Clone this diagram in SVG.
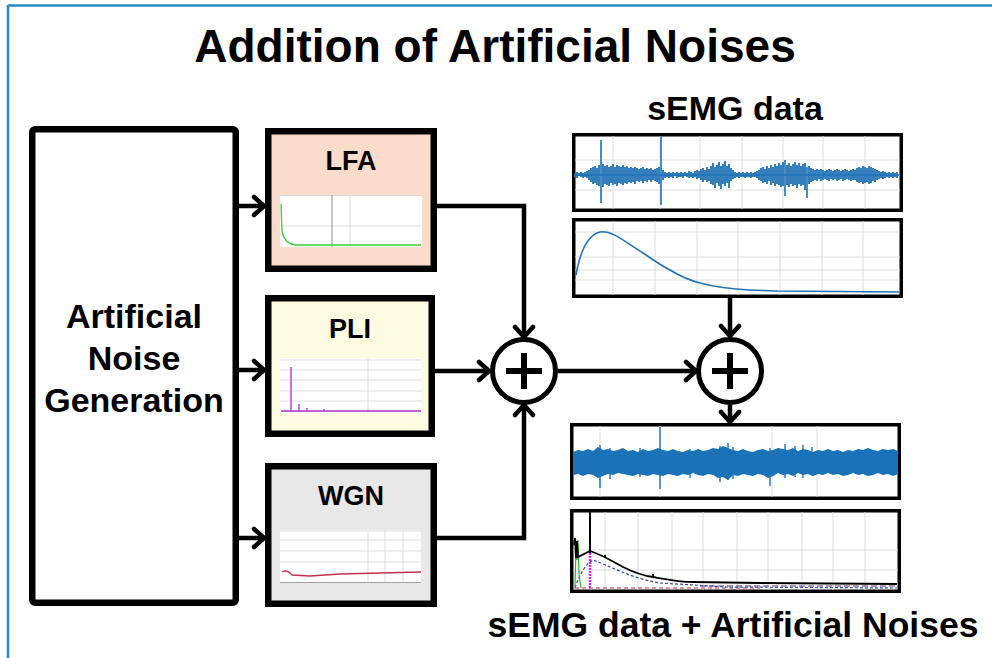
<svg xmlns="http://www.w3.org/2000/svg" width="992" height="658" viewBox="0 0 992 658">
<style>
.t{font-family:"Liberation Sans",Arial,sans-serif;font-weight:bold;fill:#000;text-anchor:middle}
.box{stroke:#000;stroke-width:6.5}
.frame{fill:#fff;stroke:#000;stroke-width:3.5}
.grid{stroke:#d9d9d9;stroke-width:0.9;fill:none}
.conn{stroke:#000;stroke-width:4.5;fill:none}
.sig{stroke:#1f72b5;fill:none}
</style>
<defs>
<marker id="ah" markerUnits="userSpaceOnUse" markerWidth="24" markerHeight="24" viewBox="-14 -12 16 24" refX="0" refY="0" orient="auto">
<path d="M-10,-9 L0,0 L-10,9" fill="none" stroke="#000" stroke-width="4.5" stroke-linecap="round" stroke-linejoin="round"/>
</marker>
</defs>
<rect width="992" height="658" fill="#fff"/>
<path d="M8,5.5 H992 M8,5 V658" stroke="#2a8ac8" stroke-width="2.6" fill="none"/>
<text class="t" x="495" y="62" font-size="46">Addition of Artificial Noises</text>

<g id="connectors">
<path class="conn" d="M237,206 H264" marker-end="url(#ah)"/>
<path class="conn" d="M237,370 H264" marker-end="url(#ah)"/>
<path class="conn" d="M237,538 H264" marker-end="url(#ah)"/>
<path class="conn" d="M435,206 H524 V337" marker-end="url(#ah)"/>
<path class="conn" d="M433,371 H489" marker-end="url(#ah)"/>
<path class="conn" d="M435,538 H524 V405" marker-end="url(#ah)"/>
<path class="conn" d="M558,371 H696" marker-end="url(#ah)"/>
<path class="conn" d="M730,297 V336" marker-end="url(#ah)"/>
<path class="conn" d="M730,405 V422" marker-end="url(#ah)"/>
</g>

<g id="generator">
<rect class="box" x="32.25" y="129.25" width="203.5" height="473.5" rx="3" fill="#fff"/>
<text class="t" x="134" y="328" font-size="34">Artificial</text>
<text class="t" x="134" y="370" font-size="34">Noise</text>
<text class="t" x="134" y="412" font-size="34">Generation</text>
</g>

<g id="lfa">
<rect class="box" x="268.25" y="131.25" width="165.5" height="137.5" fill="#fbdccb"/>
<text class="t" x="351" y="170" font-size="27">LFA</text>
<rect x="280" y="195" width="142" height="52" fill="#fff"/>
<path class="grid" d="M280,195.5 H422 M280,226 H422 M350,195 V247"/>
<path d="M332,195 V247" stroke="#777" stroke-width="0.8"/>
<path d="M281,204 L282,232 Q285,244 296,245 L421,245" stroke="#3ccc3c" stroke-width="1.3" fill="none"/>
</g>

<g id="pli">
<rect class="box" x="268.25" y="298.25" width="163.5" height="135.5" fill="#fdfbe0"/>
<text class="t" x="350" y="338" font-size="27">PLI</text>
<rect x="280" y="358" width="141" height="55" fill="#fff"/>
<path class="grid" d="M280,360 H421 M280,370 H421 M280,380 H421 M280,391 H421 M280,401 H421 M368,358 V413"/>
<path d="M281,411 H421 M291,411 V367 M299,411 V404 M307,411 V408 M324,411 V409" stroke="#b030c8" stroke-width="1.3" fill="none"/>
</g>

<g id="wgn">
<rect class="box" x="268.25" y="466.25" width="165.5" height="137.5" fill="#e8e8e8"/>
<text class="t" x="351" y="505" font-size="27">WGN</text>
<rect x="280" y="530" width="141" height="53" fill="#fff"/>
<path class="grid" d="M280,531 H421 M280,540 H421 M280,551 H421 M280,562 H421 M368,530 V583 M385,530 V583 M403,530 V583"/>
<path d="M280,582.5 H421" stroke="#888" stroke-width="0.8"/>
<path d="M282,572 Q287,569 292,575 L310,576 L340,574 L380,573 L421,572" stroke="#c03050" stroke-width="1.3" fill="none"/>
</g>

<g id="sum1">
<circle cx="524" cy="371" r="31.5" fill="#fff" stroke="#000" stroke-width="5"/>
<path d="M506,371 H542 M524,353 V389" stroke="#000" stroke-width="6"/>
</g>
<g id="sum2">
<circle cx="730" cy="371" r="31.5" fill="#fff" stroke="#000" stroke-width="5"/>
<path d="M712,371 H748 M730,353 V389" stroke="#000" stroke-width="6"/>
</g>

<g id="semg">
<text class="t" x="735" y="120" font-size="34">sEMG data</text>
<rect class="frame" x="573.75" y="134.75" width="327.5" height="75.5"/>
<path class="grid" d="M575,160 H900 M575,190 H900 M613,136 V209 M660,136 V209 M700,136 V209 M742,136 V209 M783,136 V209 M823,136 V209 M865,136 V209"/>
<path class="sig" stroke-width="1.8" d="M575,173V177M577,172V178M579,173V176M581,172V177M583,173V178M585,172V177M587,171V178M589,170V180M591,168V182M593,167V184M595,166V183M597,168V185M599,165V186M603,164V187M605,166V184M607,165V185M609,167V186M611,166V183M613,164V185M615,167V184M617,165V186M619,166V183M621,167V184M623,165V185M625,167V183M627,166V184M629,168V182M631,167V183M633,168V182M635,167V184M637,168V181M639,169V182M641,168V181M643,167V183M645,169V181M647,168V182M649,169V180M651,168V182M653,170V180M655,169V181M657,168V182M659,167V184M663,170V180M665,172V178M667,173V177M669,172V178M671,173V177M673,172V178M675,173V176M677,172V178M679,173V177M681,172V177M683,173V178M685,172V176M687,173V177M689,171V178M691,172V177M693,173V178M695,171V177M697,170V179M699,171V178M701,169V180M703,168V182M705,170V180M707,167V182M709,169V181M711,166V184M713,163V185M715,167V188M717,165V183M719,162V186M721,166V189M723,164V184M725,161V186M727,166V183M729,164V188M731,168V181M733,170V179M735,172V178M737,173V177M739,172V178M741,173V177M743,172V177M745,173V178M747,172V177M749,173V177M751,172V178M753,173V177M755,172V177M757,171V178M759,170V180M761,168V181M763,167V183M765,169V182M767,166V184M769,168V181M771,165V185M773,167V183M775,164V186M777,166V184M779,163V185M781,165V187M783,162V186M787,165V185M789,163V187M791,166V184M793,164V186M795,162V185M797,165V188M799,163V184M801,166V186M803,164V185M805,163V190M809,166V184M811,168V182M813,169V181M815,170V180M817,169V181M819,170V179M821,169V181M823,170V180M825,171V179M827,170V180M829,169V181M831,170V179M833,171V180M835,170V179M837,169V181M839,170V180M841,171V179M843,170V181M845,169V180M847,170V179M849,171V180M851,170V181M853,169V180M855,170V180M857,168V182M859,167V183M861,168V182M863,166V184M865,167V183M867,168V182M869,166V184M871,167V183M873,168V181M875,169V182M877,170V180M879,171V179M881,172V178M883,171V179M885,172V178M887,173V177M889,172V178M891,173V177M893,172V178M895,173V177M897,172V178"/>
<path class="sig" stroke-width="1.6" d="M601,140V203M661,136V205M785,160V196M807,167V198M575,175H899"/>
<rect class="frame" x="573.75" y="219.75" width="327.5" height="76.5"/>
<path class="grid" d="M575,232 H900 M575,257 H900 M575,270 H900 M575,280 H900 M613,221 V295 M655,221 V295 M697,221 V295 M738,221 V295 M780,221 V295 M822,221 V295 M863,221 V295"/>
<path class="sig" stroke-width="1.6" d="M576,275 C580,252 588,235 600,232 C612,230 625,242 643,253 C655,261 662,266 670,270 C680,276 688,280 700,283 C715,287 730,289 750,290 L777,291 L899,292"/>
</g>

<g id="noisy">
<rect class="frame" x="571.75" y="424.75" width="327.5" height="73.5"/>
<path class="grid" d="M600,426 V497 M660,426 V497 M772,426 V497 M817,426 V497"/>
<polygon fill="#1a72b8" points="573,452 578,450 583,451 588,449 593,451 598,447 603,450 608,449 613,451 618,450 623,448 628,451 633,450 638,452 643,449 648,451 653,450 658,448 663,450 668,451 673,449 678,451 683,452 688,450 693,451 698,449 703,451 708,450 713,448 718,449 723,446 728,448 733,450 738,451 743,449 748,451 753,452 758,450 763,449 768,451 773,450 778,448 783,449 788,450 793,448 798,451 803,449 808,450 813,452 818,450 823,451 828,449 833,451 838,450 843,452 848,450 853,451 858,449 863,450 868,448 873,450 878,451 883,449 888,450 893,449 898,451 898,474 893,476 888,474 883,475 878,473 873,475 868,476 863,474 858,475 853,473 848,475 843,476 838,474 833,475 828,473 823,475 818,474 813,476 808,474 803,475 798,473 793,476 788,474 783,475 778,473 773,476 768,478 763,475 758,474 753,476 748,475 743,474 738,476 733,475 728,480 723,477 718,478 713,475 708,474 703,476 698,475 693,473 688,475 683,474 678,476 673,475 668,474 663,476 658,475 653,474 648,476 643,475 638,474 633,476 628,475 623,474 618,473 613,475 608,474 603,476 598,478 593,475 588,474 583,476 578,474 573,475"/>
<path class="sig" stroke-width="1.4" d="M600,445V488M610,448V479M660,427V489M720,446V482M728,443V480M733,447V479M770,448V486M785,444V478M795,446V477M803,445V478M812,447V476M640,448V477M690,449V478"/>
<rect class="frame" x="571.75" y="510.75" width="327.5" height="80.5"/>
<path class="grid" d="M573,550 H898 M573,570 H898 M605,512 V590 M638,512 V590 M672,512 V590 M703,512 V590 M737,512 V590 M768,512 V590 M802,512 V590 M833,512 V590 M865,512 V590"/>
<path d="M575,588 H760" stroke="#c03040" stroke-width="1.2" stroke-dasharray="4 3" fill="none"/>
<path d="M700,586 H897" stroke="#603080" stroke-width="1.2" stroke-dasharray="6 3" fill="none"/>
<path d="M575,588 Q583,565 593,560 C610,566 630,578 660,583 L727,587 L897,588" stroke="#3050a0" stroke-width="1.2" stroke-dasharray="3 2" fill="none"/>
<path d="M575,588 L576,545 L577,560 L578,540 L579,575 L581,588" stroke="#30b030" stroke-width="1.2" fill="none"/>
<path d="M590,550 V588" stroke="#e020e0" stroke-width="2.5" stroke-dasharray="2 1" fill="none"/>
<path d="M574,545 L575,538 L576,558 L577,541 L578,557 Q584,554 590,551 C605,556 615,563 623,567 C635,573 645,576 653,577 C670,580 680,582 693,582 L760,583 L897,584" stroke="#000" stroke-width="1.8" fill="none"/>
<path d="M590,512 V553 M605,555 V558 M653,574 V577" stroke="#000" stroke-width="2" fill="none"/>
<text class="t" x="733" y="637" font-size="35.5">sEMG data + Artificial Noises</text>
</g>
</svg>
